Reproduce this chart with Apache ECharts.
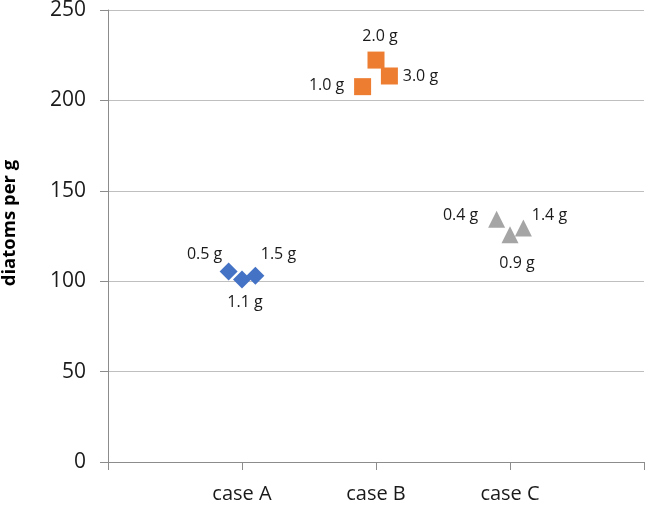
<!DOCTYPE html>
<html>
<head>
<meta charset="utf-8">
<script src="https://cdn.jsdelivr.net/npm/echarts@6/dist/echarts.min.js"></script>
<style>
  html, body { margin: 0; padding: 0; background: #fff; }
  #chart { width: 645px; height: 507px; }
</style>
</head>
<body>
<div id="chart"></div>
<script>
// categories sit at x = 1, 2, 3 on a value axis running 0..4
const categories = ['case A', 'case B', 'case C'];

// x offsets inside each case, y = diatoms per g, labels = sample weight
const caseAX = [0.9, 1.0, 1.1];
const caseAY = [105.3, 101.0, 103.0];
const caseALabels = ['0.5 g', '1.1 g', '1.5 g'];

const caseBX = [1.9, 2.0, 2.1];
const caseBY = [207.6, 222.3, 213.5];
const caseBLabels = ['1.0 g', '2.0 g', '3.0 g'];

const caseCX = [2.9, 3.0, 3.1];
const caseCY = [134.2, 125.7, 129.4];
const caseCLabels = ['0.4 g', '0.9 g', '1.4 g'];

const FONT = '"Open Sans", sans-serif';

// label offsets from the marker centre (style only)
const offsA = [[-24, -17], [3, 23], [23, -21]];
const offsB = [[-36, -1], [4, -24], [31, 0]];
const offsC = [[-36, -4], [7, 29], [26, -13]];

const buildData = (xs, ys, labels, offs) =>
  xs.map((x, i) => ({
    value: [x, ys[i]],
    label: { formatter: labels[i], offset: offs[i] },
  }));

const makeSeries = (name, symbol, size, color, data) => ({
  name,
  type: 'scatter',
  symbol,
  symbolSize: size,
  itemStyle: { color, opacity: 1 },
  label: {
    show: true,
    position: 'inside',
    color: '#1a1a1a',
    fontFamily: FONT,
    fontSize: 16,
  },
  emphasis: { disabled: true },
  data,
});

const chart = echarts.init(document.getElementById('chart'), null, { renderer: 'canvas' });

chart.setOption({
  backgroundColor: '#fff',
  animation: false,
  grid: { left: 108, right: 1, top: 10, bottom: 45, containLabel: false, outerBoundsMode: 'none' },
  xAxis: {
    type: 'value',
    min: 0,
    max: 4,
    interval: 1,
    axisLine: { show: true, lineStyle: { color: '#8c8c8c', width: 1 } },
    axisTick: { show: true, length: 8, lineStyle: { color: '#8c8c8c' } },
    splitLine: { show: false },
    axisLabel: {
      margin: 22,
      color: '#1a1a1a',
      fontFamily: FONT,
      fontSize: 20,
      formatter: v => categories[v - 1] || '',
    },
  },
  yAxis: {
    type: 'value',
    min: 0,
    max: 250,
    interval: 50,
    name: 'diatoms per g',
    nameLocation: 'middle',
    nameGap: 89,
    // left padding nudges the rotated title upwards
    nameTextStyle: { fontFamily: FONT, fontSize: 18.5, fontWeight: 'bold', color: '#000', padding: [0, 0, 0, 26] },
    axisLine: { show: true, lineStyle: { color: '#8c8c8c', width: 1 } },
    axisTick: { show: true, length: 8, lineStyle: { color: '#8c8c8c' } },
    splitLine: { show: true, lineStyle: { color: '#bfbfbf', width: 1 } },
    axisLabel: { margin: 22, color: '#1a1a1a', fontFamily: FONT, fontSize: 21 },
  },
  series: [
    makeSeries('case A', 'diamond', 18, '#4472C4', buildData(caseAX, caseAY, caseALabels, offsA)),
    makeSeries('case B', 'rect', 17, '#ED7D31', buildData(caseBX, caseBY, caseBLabels, offsB)),
    makeSeries('case C', 'triangle', 17, '#A5A5A5', buildData(caseCX, caseCY, caseCLabels, offsC)),
  ],
});
</script>
</body>
</html>
